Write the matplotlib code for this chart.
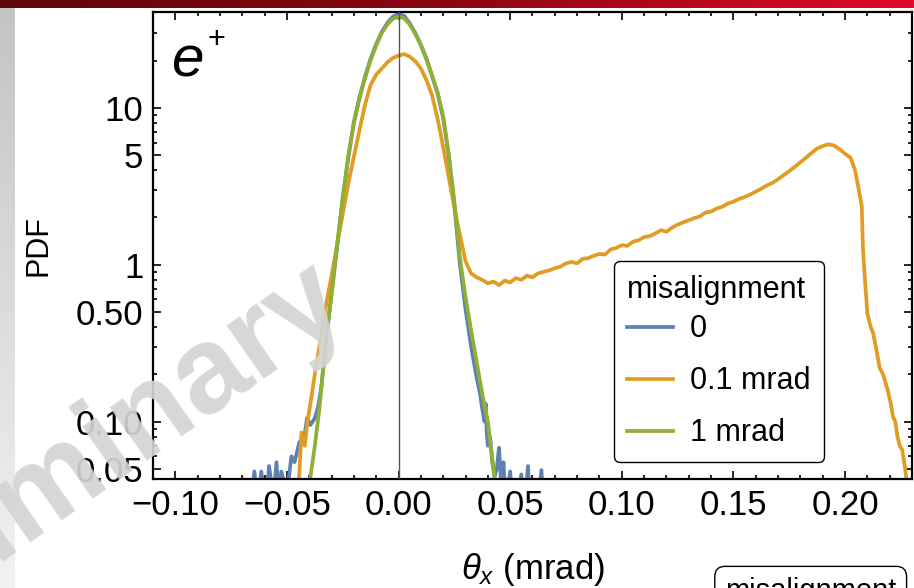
import numpy as np
import matplotlib
matplotlib.use("Agg")
import matplotlib.pyplot as plt
from matplotlib.ticker import FixedLocator, FuncFormatter, NullFormatter

plt.rcParams['font.family'] = ['Liberation Sans', 'DejaVu Sans']
plt.rcParams['mathtext.fontset'] = 'custom'
plt.rcParams['mathtext.rm'] = 'Liberation Sans'
plt.rcParams['mathtext.it'] = 'Liberation Sans:italic'

# data (theta_x in mrad, PDF)
blue_x = [-0.066, -0.0646, -0.063, -0.0615, -0.0595, -0.058, -0.056, -0.0547, -0.0535, -0.0525,
          -0.050, -0.048, -0.0466, -0.0444, -0.0422, -0.041, -0.0395, -0.0375, -0.036, -0.0345,
          -0.0325, -0.03, -0.0275, -0.025, -0.0225, -0.02, -0.0175, -0.015, -0.0125, -0.01,
          -0.0075, -0.005, -0.0025, 0.0, 0.0025, 0.005, 0.0075, 0.01, 0.0125, 0.015,
          0.0175, 0.02, 0.0225, 0.025, 0.0275, 0.03, 0.0325, 0.035, 0.0365, 0.0375,
          0.0385, 0.039, 0.0395, 0.040, 0.041, 0.042, 0.043, 0.044, 0.045, 0.046,
          0.047, 0.048, 0.050, 0.051, 0.053, 0.055, 0.056, 0.058, 0.059, 0.0605,
          0.062, 0.064, 0.065]
blue_y = [0.03, 0.048, 0.03, 0.048, 0.03, 0.052, 0.032, 0.055, 0.032, 0.048,
          0.035, 0.06, 0.055, 0.074, 0.08, 0.105, 0.095, 0.105, 0.125, 0.17,
          0.33, 0.66, 1.3, 2.65, 4.85, 8.1, 11.7, 15.8, 20.6, 25.5,
          30.5, 34.8, 38.2, 39.6, 38.5, 34.6, 30.0, 25.2, 20.6, 16.0,
          12.3, 8.6, 4.9, 2.4, 1.0, 0.52, 0.3, 0.19, 0.15, 0.12,
          0.10, 0.13, 0.085, 0.07, 0.08, 0.055, 0.045, 0.05, 0.068, 0.04,
          0.055, 0.03, 0.048, 0.025, 0.03, 0.046, 0.025, 0.052, 0.025, 0.035,
          0.025, 0.049, 0.025]

green_x = [-0.041, -0.0395, -0.0375, -0.0355, -0.034, -0.0325, -0.03, -0.0275, -0.025, -0.0225,
           -0.02, -0.0175, -0.015, -0.0125, -0.01, -0.0075, -0.005, -0.0025, 0.0, 0.0025,
           0.005, 0.0075, 0.01, 0.0125, 0.015, 0.0175, 0.02, 0.0225, 0.025, 0.0275,
           0.03, 0.0325, 0.035, 0.0375, 0.04, 0.0425, 0.044]
green_y = [0.03, 0.044, 0.07, 0.12, 0.2, 0.33, 0.65, 1.35, 2.7, 4.9,
           8.0, 11.5, 15.5, 20.2, 25.0, 30.0, 34.0, 37.0, 38.0, 37.2,
           34.0, 29.5, 25.0, 20.3, 16.0, 12.5, 8.8, 5.0, 2.5, 1.1,
           0.62, 0.38, 0.24, 0.15, 0.10, 0.05, 0.035]

orange_x = [-0.046, -0.0445, -0.0435, -0.042, -0.041, -0.0395, -0.0375, -0.035, -0.0325, -0.03,
            -0.0275, -0.025, -0.0225, -0.02, -0.0175, -0.015, -0.0125, -0.01, -0.0075, -0.005,
            -0.0025, 0.0, 0.0025, 0.005, 0.0075, 0.01, 0.0125, 0.015, 0.0175, 0.02,
            0.0225, 0.025, 0.0275, 0.030, 0.0325, 0.035, 0.0375, 0.040, 0.0425, 0.045,
            0.0475, 0.050, 0.0525, 0.055, 0.0575, 0.060, 0.0625, 0.065, 0.0675, 0.070,
            0.0725, 0.075, 0.0775, 0.080, 0.0825, 0.085, 0.0875, 0.090, 0.0925, 0.095,
            0.0975, 0.100, 0.1025, 0.105, 0.1075, 0.110, 0.1125, 0.115, 0.1175, 0.120,
            0.1225, 0.125, 0.1275, 0.130, 0.1325, 0.135, 0.1375, 0.140, 0.1425, 0.145,
            0.1475, 0.150, 0.1525, 0.155, 0.1575, 0.160, 0.1625, 0.165, 0.1675, 0.170,
            0.1725, 0.175, 0.1775, 0.180, 0.1825, 0.185, 0.1875, 0.190, 0.1925, 0.195,
            0.1975, 0.200, 0.2025, 0.2045, 0.206, 0.2075, 0.208, 0.2085, 0.210, 0.2115,
            0.2125, 0.214, 0.2155, 0.217, 0.2185, 0.2195, 0.2205, 0.2215, 0.2225, 0.2235,
            0.2245, 0.2256, 0.2265, 0.2278]
orange_y = [0.03, 0.045, 0.085, 0.07, 0.095, 0.13, 0.2, 0.33, 0.55, 0.85,
            1.35, 2.1, 3.3, 4.9, 7.2, 10.5, 14.0, 16.3, 17.8, 19.5,
            20.8, 21.5, 22.0, 21.2, 19.8, 17.8, 15.0, 12.0, 8.5, 5.6,
            3.6, 2.3, 1.55, 1.05, 0.88, 0.83, 0.80, 0.76, 0.78, 0.74,
            0.79, 0.77, 0.82, 0.80, 0.85, 0.83, 0.88, 0.90, 0.92, 0.95,
            0.97, 1.02, 1.04, 1.02, 1.09, 1.10, 1.14, 1.17, 1.16, 1.25,
            1.28, 1.33, 1.32, 1.40, 1.43, 1.50, 1.52, 1.58, 1.66, 1.62,
            1.72, 1.80, 1.86, 1.92, 1.98, 2.03, 2.15, 2.18, 2.28, 2.34,
            2.45, 2.52, 2.62, 2.70, 2.80, 2.92, 3.05, 3.20, 3.32, 3.50,
            3.72, 3.95, 4.20, 4.50, 4.80, 5.15, 5.50, 5.70, 5.85, 5.75,
            5.45, 5.10, 4.80, 4.00, 3.10, 2.35, 1.30, 0.98, 0.49, 0.40,
            0.37, 0.29, 0.22, 0.20, 0.17, 0.15, 0.13, 0.107, 0.10, 0.08,
            0.07, 0.066, 0.055, 0.04]

series_labels = ['0', '0.1 mrad', '1 mrad']
series_colors = ['#5E81B5', '#E19C24', '#8FB032']

x_major = [-0.10, -0.05, 0.00, 0.05, 0.10, 0.15, 0.20]
y_major = [0.05, 0.1, 0.5, 1, 5, 10]
y_major_labels = ['0.05', '0.10', '0.50', '1', '5', '10']

fig = plt.figure(figsize=(9.14, 5.88), dpi=100)

# slide decoration: red bar on top, grey strip at left
bar = fig.add_axes([0, 1 - 8 / 588, 1, 8 / 588])
bar.imshow(np.linspace(0, 1, 256)[None, :], aspect='auto',
           cmap=matplotlib.colors.LinearSegmentedColormap.from_list('bar', ['#5e0506', '#8c0612', '#e00a28']))
bar.axis('off')
strip = fig.add_axes([0, 0, 15 / 914, 1 - 8 / 588])
strip.imshow(np.linspace(0, 1, 256)[:, None], aspect='auto',
             cmap=matplotlib.colors.LinearSegmentedColormap.from_list('strip', ['#c4c4c4', '#f2f2f2']))
strip.axis('off')

ax = fig.add_axes([153 / 914, 1 - 479 / 588, 759 / 914, 467 / 588])

ax.plot(blue_x, blue_y, color=series_colors[0], lw=2.7, label=series_labels[0])
ax.plot(orange_x, orange_y, color=series_colors[1], lw=2.7, label=series_labels[1])
ax.plot(green_x, green_y, color=series_colors[2], lw=2.7, label=series_labels[2])
ax.axvline(0, color='#555555', lw=1.0, zorder=5)

ax.set_yscale('log')
ax.set_xlim(-0.11, 0.23)
ax.set_ylim(0.043, 40.8)

ax.xaxis.set_major_locator(FixedLocator(x_major))
ax.xaxis.set_minor_locator(FixedLocator(np.arange(-0.11, 0.231, 0.01)))
ax.xaxis.set_major_formatter(FuncFormatter(lambda v, p: f'{v:.2f}'.replace('-', '\u2212')))
ax.yaxis.set_major_locator(FixedLocator(y_major))
ax.yaxis.set_major_formatter(FuncFormatter(lambda v, p: y_major_labels[p] if p is not None and p < len(y_major_labels) else ''))
ax.yaxis.set_minor_locator(FixedLocator([0.06, 0.07, 0.08, 0.09, 0.2, 0.3, 0.4, 0.6, 0.7, 0.8, 0.9,
                                         2, 3, 4, 6, 7, 8, 9, 20, 30]))
ax.yaxis.set_minor_formatter(NullFormatter())
ax.tick_params(which='both', direction='in', top=True, right=True, width=1.2, colors='black')
ax.tick_params(which='major', length=6, labelsize=25, pad=7)
ax.tick_params(which='minor', length=3)
for s in ax.spines.values():
    s.set_linewidth(1.6)

ax.set_xlabel(r'$\theta_x$ (mrad)', fontsize=25, labelpad=21)
ax.set_ylabel('PDF', fontsize=22, labelpad=16)

ax.text(0.024, 0.862, 'e', transform=ax.transAxes, fontsize=42, style='italic',
        ha='left', va='baseline')
ax.text(0.083, 0.940, '+', transform=ax.transAxes, fontsize=22, ha='center', va='center')

leg = ax.legend(title='misalignment', loc='lower left', bbox_to_anchor=(0.607, 0.036),
                fontsize=22, title_fontsize=22, frameon=True, fancybox=True,
                handlelength=1.5, handletextpad=0.55, labelspacing=0.72,
                borderpad=0.45, borderaxespad=0, alignment='left')
leg._legend_box.sep = 7  # tighter gap between title and entries
leg.get_frame().set_edgecolor('black')
leg.get_frame().set_linewidth(1.0)
leg.get_frame().set_alpha(1)

# second legend of the next panel, cut by the bottom edge
fig.text(725 / 914, -0.018, 'misalignment', fontsize=21, ha='left', va='baseline',
         bbox=dict(boxstyle='round,pad=0.35', fc='white', ec='black', lw=1.0))

# watermark
fig.text(0.385, 0.47, 'Preliminary', fontsize=88, fontweight='bold', color='#d4d4d4',
         rotation=35, ha='right', va='baseline', rotation_mode='anchor', zorder=20, alpha=0.92)

fig.savefig('out.png', dpi=100)
